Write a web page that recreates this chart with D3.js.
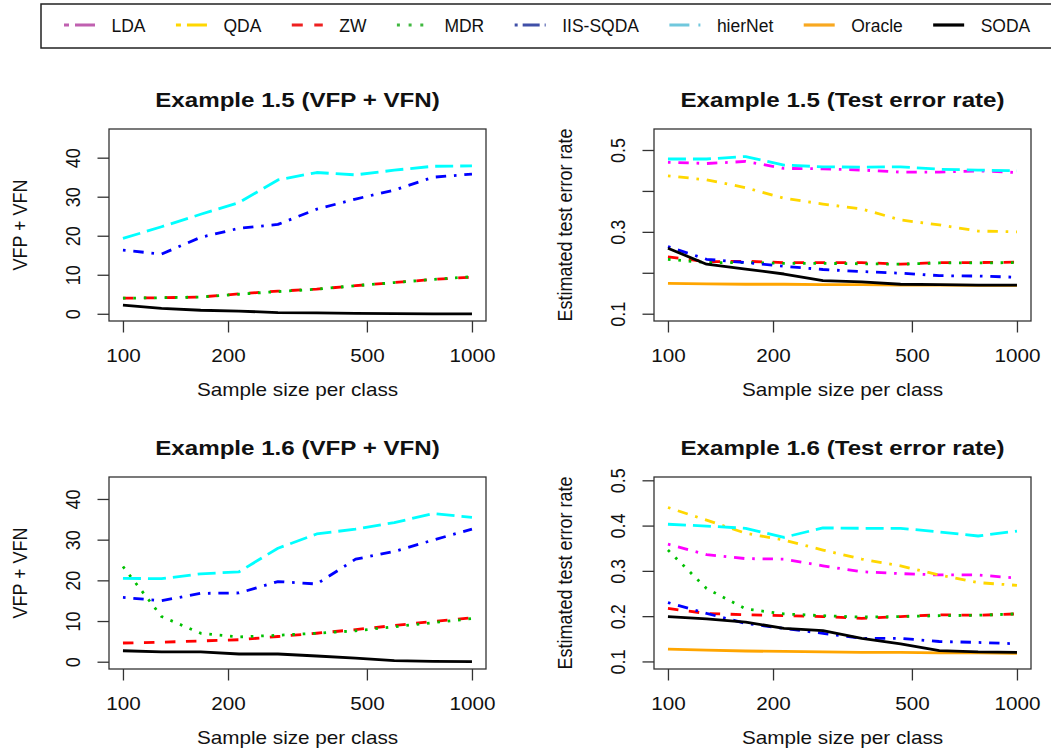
<!DOCTYPE html>
<html><head><meta charset="utf-8">
<script src="https://cdn.jsdelivr.net/npm/d3@7"></script>
<style>
body{margin:0;background:#fff;}
svg{display:block;}
text{font-family:"Liberation Sans",Arial,Helvetica,sans-serif;fill:#111;}
</style>
</head><body>
<svg id="chart" width="1051" height="751"></svg>
<script>
// ---------------- DATA ----------------
const sampleSizes = [100, 129, 167, 215, 278, 359, 464, 599, 774, 1000];
const methods = ["LDA", "QDA", "ZW", "MDR", "IIS-SQDA", "hierNet", "Oracle", "SODA"];
const xTickValues = [100, 200, 500, 1000];
const vfTickValues = [0, 10, 20, 30, 40];
const teTickValues = [0.1, 0.2, 0.3, 0.4, 0.5];
const te15TickLabels = [0.1, 0.3, 0.5];
const te16TickLabels = [0.1, 0.2, 0.3, 0.4, 0.5];

// Example 1.5 : VFP + VFN
const vf15_ZW      = [4.0, 4.1, 4.3, 5.1, 5.8, 6.3, 7.2, 8.0, 8.8, 9.4];
const vf15_MDR     = [4.0, 4.1, 4.3, 5.0, 5.7, 6.3, 7.2, 8.0, 8.8, 9.5];
const vf15_IISSQDA = [16.3, 15.3, 19.6, 21.9, 22.9, 26.8, 29.4, 31.7, 35.0, 35.8];
const vf15_hierNet = [19.3, 22.3, 25.5, 28.5, 34.3, 36.2, 35.6, 36.8, 37.8, 37.9];
const vf15_SODA    = [2.2, 1.4, 0.9, 0.7, 0.3, 0.25, 0.1, 0.05, 0.0, 0.0];

// Example 1.5 : test error rate
const te15_LDA     = [0.470, 0.467, 0.472, 0.455, 0.454, 0.451, 0.446, 0.446, 0.449, 0.445];
const te15_QDA     = [0.437, 0.427, 0.408, 0.382, 0.368, 0.356, 0.329, 0.317, 0.302, 0.300];
const te15_ZW      = [0.239, 0.227, 0.228, 0.225, 0.225, 0.225, 0.221, 0.225, 0.225, 0.226];
const te15_MDR     = [0.233, 0.225, 0.225, 0.223, 0.223, 0.222, 0.221, 0.224, 0.224, 0.225];
const te15_IISSQDA = [0.264, 0.233, 0.225, 0.216, 0.208, 0.203, 0.199, 0.193, 0.192, 0.189];
const te15_hierNet = [0.478, 0.478, 0.484, 0.463, 0.459, 0.458, 0.459, 0.453, 0.451, 0.449];
const te15_Oracle  = [0.174, 0.173, 0.172, 0.172, 0.171, 0.171, 0.170, 0.170, 0.169, 0.169];
const te15_SODA    = [0.260, 0.221, 0.209, 0.197, 0.181, 0.178, 0.172, 0.171, 0.170, 0.170];

// Example 1.6 : VFP + VFN
const vf16_ZW      = [4.6, 4.8, 5.1, 5.4, 6.2, 7.0, 7.9, 8.9, 9.9, 10.8];
const vf16_MDR     = [23.4, 11.1, 7.0, 6.1, 6.5, 7.0, 7.6, 8.6, 9.6, 10.6];
const vf16_IISSQDA = [15.8, 15.0, 16.8, 16.9, 19.7, 19.1, 25.2, 27.1, 29.9, 32.6];
const vf16_hierNet = [20.5, 20.4, 21.6, 22.1, 27.9, 31.4, 32.6, 34.2, 36.4, 35.5];
const vf16_SODA    = [2.7, 2.4, 2.4, 1.9, 1.9, 1.4, 0.9, 0.25, 0.1, 0.0];

// Example 1.6 : test error rate
const te16_LDA     = [0.359, 0.336, 0.327, 0.326, 0.311, 0.298, 0.294, 0.291, 0.291, 0.284];
const te16_QDA     = [0.440, 0.412, 0.383, 0.368, 0.346, 0.326, 0.311, 0.291, 0.274, 0.268];
const te16_ZW      = [0.217, 0.206, 0.203, 0.201, 0.199, 0.195, 0.199, 0.203, 0.202, 0.205];
const te16_MDR     = [0.346, 0.261, 0.216, 0.205, 0.201, 0.198, 0.199, 0.201, 0.202, 0.205];
const te16_IISSQDA = [0.230, 0.206, 0.184, 0.173, 0.162, 0.151, 0.151, 0.144, 0.142, 0.139];
const te16_hierNet = [0.403, 0.399, 0.394, 0.374, 0.395, 0.394, 0.394, 0.386, 0.377, 0.388];
const te16_Oracle  = [0.127, 0.125, 0.123, 0.122, 0.121, 0.120, 0.120, 0.119, 0.119, 0.118];
const te16_SODA    = [0.199, 0.194, 0.187, 0.173, 0.168, 0.151, 0.139, 0.124, 0.121, 0.120];

// ---------------- STYLES ----------------
const lineColor = {"LDA":"#ff00ff","QDA":"#ffd700","ZW":"#ff0000","MDR":"#00c000",
  "IIS-SQDA":"#0000ff","hierNet":"#00ffff","Oracle":"#ffa500","SODA":"#000000"};
const legendColor = {"LDA":"#c060b0","QDA":"#ffd700","ZW":"#ee2020","MDR":"#40b840",
  "IIS-SQDA":"#4050a8","hierNet":"#70c8dd","Oracle":"#f8a820","SODA":"#000000"};
const lineDash = {"LDA":"2.6,7.8,10.4,7.8","QDA":"2.6,7.8,10.4,7.8","ZW":"10.5,10.5","MDR":"2.6,7.8",
  "IIS-SQDA":"2.6,7.8,10.4,7.8","hierNet":"18,7","Oracle":null,"SODA":null};
const legendDash = {"LDA":"5,6,20,6","QDA":"5,6,20,6","ZW":"11,11.5","MDR":"3,8.7",
  "IIS-SQDA":"3,5,17,5","hierNet":"20,9","Oracle":null,"SODA":null};

const svg = d3.select("#chart");
svg.append("rect").attr("width",1051).attr("height",751).attr("fill","#fff");
const FONT = "'Liberation Sans',Arial,Helvetica,sans-serif";
const SX = 1.15; // horizontal stretch of the reference's text

// ---------------- LEGEND ----------------
const leg = svg.append("g");
leg.append("rect").attr("x",41).attr("y",4).attr("width",1100).attr("height",44)
  .attr("fill","none").attr("stroke","#222").attr("stroke-width",1.5);
let lx = 64;
methods.forEach(m => {
  leg.append("line").attr("x1",lx).attr("x2",lx+31).attr("y1",25).attr("y2",25)
    .attr("stroke",legendColor[m]).attr("stroke-width",3.2)
    .attr("stroke-dasharray",legendDash[m]);
  const t = leg.append("text").attr("x",lx+47.5).attr("y",32).attr("font-size",17.5).text(m);
  lx = lx + 47.5 + t.node().getComputedTextLength() + 30.4;
});

// ---------------- PANELS ----------------
const panels = [
  {title:"Example 1.5 (VFP + VFN)", left:109, top:129, ydom:[-1.85,47.35], yticks:vfTickValues, ylabels:vfTickValues,
   fmt:d3.format("d"), ylab:"VFP + VFN",
   series:{"ZW":vf15_ZW,"MDR":vf15_MDR,"IIS-SQDA":vf15_IISSQDA,"hierNet":vf15_hierNet,"SODA":vf15_SODA}},
  {title:"Example 1.5 (Test error rate)", left:654, top:129, ydom:[0.0822,0.5513], yticks:teTickValues, ylabels:te15TickLabels,
   fmt:d3.format(".1f"), ylab:"Estimated test error rate",
   series:{"LDA":te15_LDA,"QDA":te15_QDA,"ZW":te15_ZW,"MDR":te15_MDR,"IIS-SQDA":te15_IISSQDA,
           "hierNet":te15_hierNet,"Oracle":te15_Oracle,"SODA":te15_SODA}},
  {title:"Example 1.6 (VFP + VFN)", left:109, top:477, ydom:[-1.79,45.4], yticks:vfTickValues, ylabels:vfTickValues,
   fmt:d3.format("d"), ylab:"VFP + VFN",
   series:{"ZW":vf16_ZW,"MDR":vf16_MDR,"IIS-SQDA":vf16_IISSQDA,"hierNet":vf16_hierNet,"SODA":vf16_SODA}},
  {title:"Example 1.6 (Test error rate)", left:654, top:477, ydom:[0.0833,0.5073], yticks:teTickValues, ylabels:te16TickLabels,
   fmt:d3.format(".1f"), ylab:"Estimated test error rate",
   series:{"LDA":te16_LDA,"QDA":te16_QDA,"ZW":te16_ZW,"MDR":te16_MDR,"IIS-SQDA":te16_IISSQDA,
           "hierNet":te16_hierNet,"Oracle":te16_Oracle,"SODA":te16_SODA}}
];
const W = 377, H = 192;

panels.forEach(p => {
  const g = svg.append("g").attr("transform",`translate(${p.left},${p.top})`);
  const x = d3.scaleLog().domain([91.2,1097]).range([0,W]);
  const y = d3.scaleLinear().domain(p.ydom).range([H,0]);

  // lines
  const line = d3.line().x((d,i)=>x(sampleSizes[i])).y(d=>y(d));
  methods.forEach(m => {
    if (!p.series[m]) return;
    g.append("path").datum(p.series[m]).attr("d",line).attr("fill","none")
      .attr("stroke",lineColor[m]).attr("stroke-width",2.8)
      .attr("stroke-linejoin","round")
      .attr("stroke-dasharray",lineDash[m]);
  });

  // box
  g.append("rect").attr("x",0).attr("y",0).attr("width",W).attr("height",H)
    .attr("fill","none").attr("stroke","#333").attr("stroke-width",1.3);

  // x axis
  const xa = g.append("g").attr("transform",`translate(0,${H})`)
    .call(d3.axisBottom(x).tickValues(xTickValues).tickSize(11.5).tickFormat(d3.format("d")));
  xa.select(".domain").remove();
  xa.selectAll("line").attr("stroke","#333").attr("stroke-width",1.3);
  xa.selectAll("text").attr("y",null).attr("dy",null)
    .attr("transform",`translate(0,40.7) scale(${SX},1)`)
    .attr("font-size",18).attr("font-family",FONT).attr("fill","#111");

  // y axis
  const ya = g.append("g")
    .call(d3.axisLeft(y).tickValues(p.yticks).tickSize(11.5)
      .tickFormat(d => p.ylabels.some(v => Math.abs(v-d)<1e-9) ? p.fmt(d) : ""));
  ya.select(".domain").remove();
  ya.selectAll("line").attr("stroke","#333").attr("stroke-width",1.3);
  ya.selectAll("text").attr("x",null).attr("dy",null)
    .attr("transform",`translate(-29,0) rotate(-90) scale(1,${SX})`)
    .attr("text-anchor","middle")
    .attr("font-size",18).attr("font-family",FONT).attr("fill","#111");

  // title
  g.append("text").attr("transform",`translate(${W/2},-22.3) scale(${SX},1)`)
    .attr("text-anchor","middle").attr("font-size",21).attr("font-weight","bold").text(p.title);
  // x label
  g.append("text").attr("transform",`translate(${W/2},${H+75}) scale(${SX},1)`)
    .attr("text-anchor","middle").attr("font-size",18).text("Sample size per class");
  // y label
  g.append("text").attr("transform",`translate(-81.6,${H/2}) rotate(-90) scale(1,${SX})`)
    .attr("text-anchor","middle").attr("font-size",18).text(p.ylab);
});
</script>
</body></html>
